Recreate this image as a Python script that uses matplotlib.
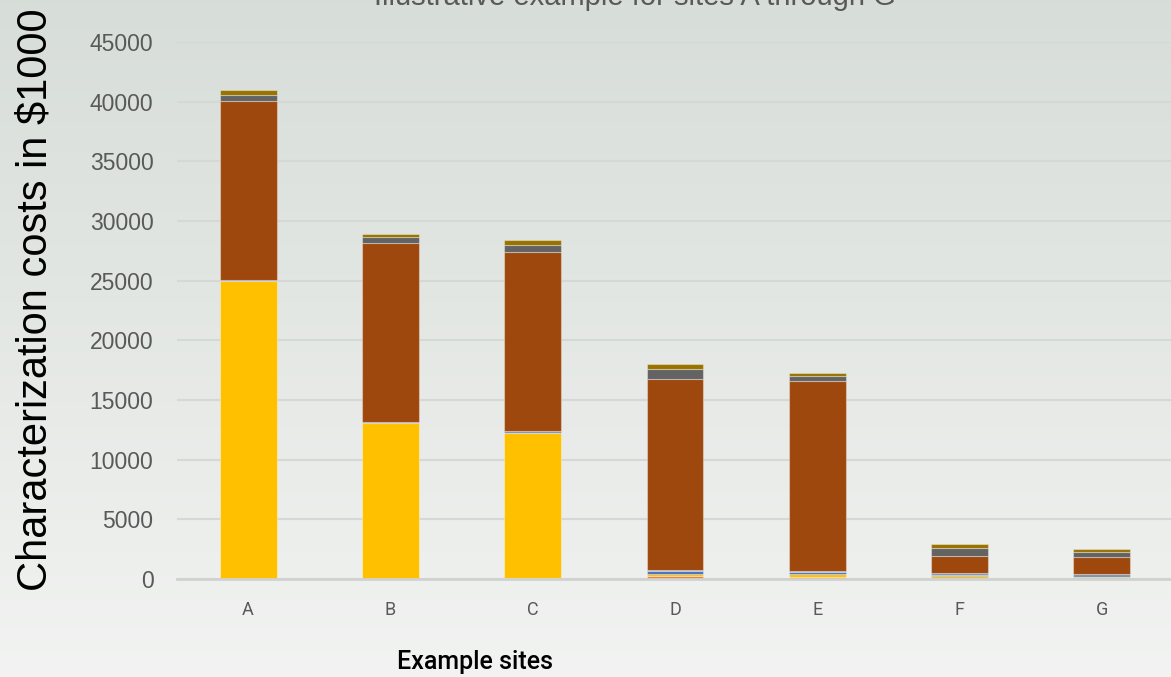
import numpy as np
import matplotlib.pyplot as plt

# data (in $1000), stacked bottom to top
sites = ['A', 'B', 'C', 'D', 'E', 'F', 'G']
orange = [0, 0, 50, 230, 200, 0, 0]
gold = [24950, 13050, 12210, 210, 250, 260, 200]
blue = [0, 0, 0, 250, 150, 80, 0]
steel = [140, 130, 140, 60, 100, 170, 200]
brown = [15000, 14950, 15030, 16000, 15880, 1425, 1475]
darkgray = [500, 500, 560, 860, 445, 700, 370]
olive = [420, 280, 420, 370, 200, 335, 250]

series = [orange, gold, blue, steel, brown, darkgray, olive]
colors = ['#ED7D31', '#FFC000', '#4472C4', '#7F93AA', '#9E480E', '#636363', '#997300']

fig = plt.figure(figsize=(11.71, 6.77), dpi=100)

# gradient background
bg = fig.add_axes([0, 0, 1, 1], zorder=-10)
grad = np.linspace(0, 1, 256).reshape(-1, 1)
top = np.array([0.843, 0.867, 0.847])
bot = np.array([0.949, 0.953, 0.949])
img = top + (bot - top) * grad[:, :, None]
bg.imshow(img, aspect='auto', extent=[0, 1, 0, 1])
bg.axis('off')

ax = fig.add_axes([177/1171, (677-579)/677, (1173-177)/1171, (579-42)/677])
ax.patch.set_alpha(0)

x = np.arange(len(sites))
bottom = np.zeros(len(sites))
for vals, c in zip(series, colors):
    ax.bar(x, vals, 0.4, bottom=bottom, color=c, edgecolor=(1, 1, 1, 0.35),
           linewidth=0.8, zorder=3)
    bottom += np.array(vals)

ax.set_xlim(-0.5, 6.5)
ax.set_ylim(0, 45000)
ax.set_yticks(np.arange(0, 45001, 5000))
ax.yaxis.grid(True, color='#D5D8D5', linewidth=1.5, zorder=0)
ax.set_axisbelow(True)
for s in ['top', 'right', 'left']:
    ax.spines[s].set_visible(False)
ax.spines['bottom'].set_color('#D0D2D0')
ax.spines['bottom'].set_linewidth(2)
ax.spines['bottom'].set_zorder(4)

ax.set_xticks(x)
ax.set_xticklabels(sites, fontsize=13, color='#595959', family='Roboto')
ax.tick_params(axis='x', length=0, pad=16)
ax.tick_params(axis='y', length=0, pad=17, labelsize=16.5, labelcolor='#595959')
for lab in ax.get_yticklabels():
    lab.set_family('Liberation Sans')

fig.text(635/1171, 1 - 5/677, 'Illustrative example for sites A through G',
         ha='center', va='baseline', fontsize=21, color='#595959', family='Liberation Sans')
fig.text(475/1171, 1 - 662/677, 'Example sites', ha='center', va='center',
         fontsize=18, color='black', family='Roboto', fontweight='medium')
fig.text(36/1171, 1 - 300/677, 'Characterization costs in $1000', rotation=90,
         ha='center', va='center', fontsize=30, color='black', family='Liberation Sans')

fig.savefig('out.png', dpi=100)
